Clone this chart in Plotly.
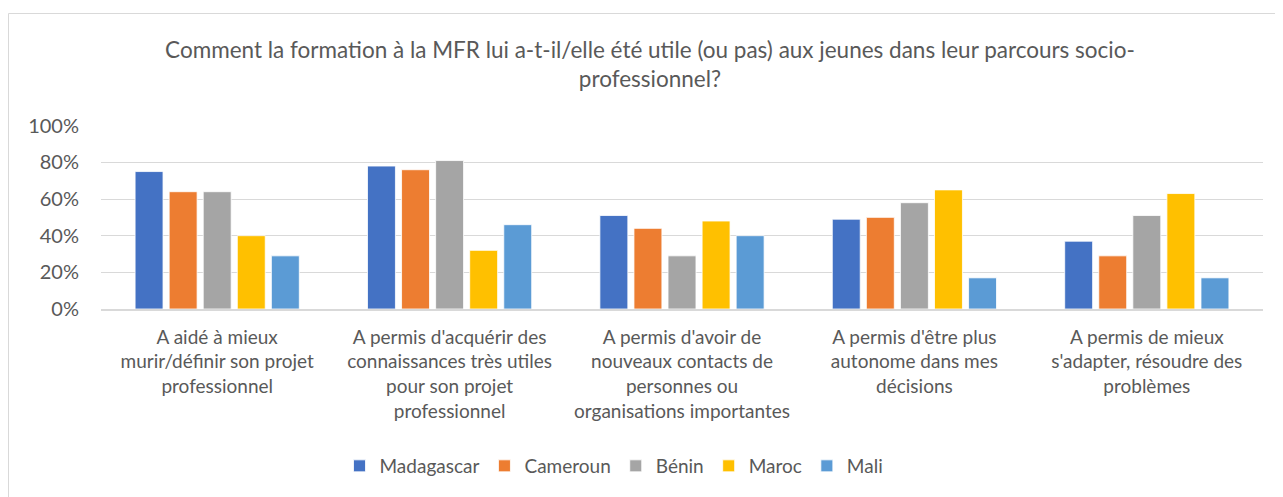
import plotly.graph_objects as go

categories = [
    "A aidé à mieux<br>murir/définir son projet<br>professionnel",
    "A permis d'acquérir des<br>connaissances très utiles<br>pour son projet<br>professionnel",
    "A permis d'avoir de<br>nouveaux contacts de<br>personnes ou<br>organisations importantes",
    "A permis d'être plus<br>autonome dans mes<br>décisions",
    "A permis de mieux<br>s'adapter, résoudre des<br>problèmes",
]
madagascar = [75, 78, 51, 49, 37]
cameroun = [64, 76, 44, 50, 29]
benin = [64, 81, 29, 58, 51]
maroc = [40, 32, 48, 65, 63]
mali = [29, 46, 40, 17, 17]

series = [
    ("Madagascar", madagascar, "#4472C4"),
    ("Cameroun", cameroun, "#ED7D31"),
    ("Bénin", benin, "#A5A5A5"),
    ("Maroc", maroc, "#FFC000"),
    ("Mali", mali, "#5B9BD5"),
]

FONT = "Lato, Open Sans, sans-serif"
fig = go.Figure()
for name, vals, col in series:
    fig.add_trace(go.Bar(x=categories, y=vals, name=name,
                         marker=dict(color=col, line=dict(color="white", width=0.8))))

OFF = 8  # page body margin
W, H = 1283 - OFF, 497 - OFF
L, R, T = 101 - OFF, 20, 125 - OFF
B = H - (309 - OFF)
pw, ph = W - L - R, H - T - B

def px_x(xs):
    return (xs - OFF - L) / pw

def px_y(ys):
    return (H - B - (ys - OFF)) / ph

fig.update_layout(
    width=W, height=H,
    margin=dict(l=L, r=R, t=T, b=B),
    paper_bgcolor="white", plot_bgcolor="white",
    barmode="group", bargap=0.267, bargroupgap=0.18,
    font=dict(family=FONT, color="#595959", size=19),
    title=dict(
        text="Comment la formation à la MFR lui a-t-il/elle été utile (ou pas) aux jeunes dans leur parcours socio-<br>professionnel?",
        x=(650 - OFF) / W, xanchor="center", y=1 - (58 - OFF) / H, yanchor="top",
        font=dict(size=22.5, color="#595959", family=FONT),
    ),
    legend=dict(orientation="h", x=px_x(614), xanchor="center",
                y=px_y(466), yanchor="middle", itemwidth=30,
                font=dict(size=19, color="#595959"), traceorder="normal"),
    yaxis=dict(range=[0, 100.4], dtick=20, ticksuffix="%", showgrid=True,
               gridcolor="#D9D9D9", gridwidth=1.3, zeroline=False,
               tickfont=dict(size=20, color="#595959"), ticklabelstandoff=21),
    xaxis=dict(showline=True, linecolor="#D9D9D9", linewidth=1.5,
               tickfont=dict(size=19, color="#595959"), tickangle=0,
               ticklabelstandoff=10),
    shapes=[dict(type="rect", xref="paper", yref="paper",
                 x0=px_x(8.5), x1=px_x(1310), y0=px_y(530), y1=px_y(13.5),
                 line=dict(color="#D9D9D9", width=1))],
)

fig.write_html("out.html")
